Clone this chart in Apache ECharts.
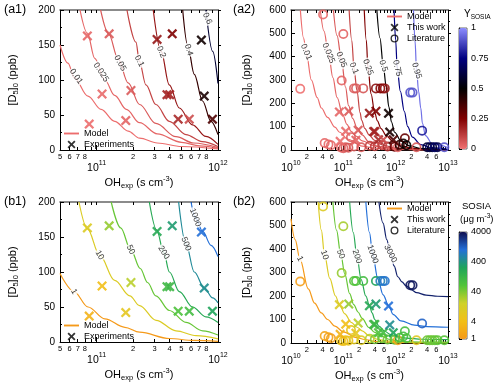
<!DOCTYPE html>
<html><head><meta charset="utf-8">
<script src="https://cdn.jsdelivr.net/npm/echarts@6/dist/echarts.min.js"></script>
<style>html,body{margin:0;padding:0;background:#fff}#c{width:500px;height:387px}</style>
</head><body><div id="c"></div>
<script>
// ---------------- DATA ----------------
// Panel (a1): Y_SOSIA contours, OH_exp [molec s cm-3] vs [D5]0 [ppb]
const a1Levels = ['0.01','0.025','0.05','0.1','0.2','0.4','0.6'];
const a1LevelValues = [0.01,0.025,0.05,0.1,0.2,0.4,0.6];
const a1Curves = [
  [[5.0e10,150],[5.82e10,124],[6.56e10,103],[8.49e10,77],[1.09e11,58],[1.41e11,41],[1.82e11,27],[2.26e11,17],[3.16e11,10],[5.01e11,5],[1e12,1.5]],
  [[7.31e10,200],[8.4e10,167],[9.66e10,131],[1.17e11,100],[1.41e11,78],[1.76e11,58],[2.26e11,39],[3.16e11,23],[5.01e11,11],[7.08e11,6],[1e12,2.5]],
  [[1.08e11,200],[1.26e11,166],[1.5e11,131],[1.82e11,96],[2.26e11,65],[3.08e11,38],[4.51e11,19],[6.31e11,10],[1e12,3.5]],
  [[1.78e11,200],[2.11e11,154],[2.25e11,127],[2.55e11,93],[3.08e11,65],[3.97e11,41],[5.45e11,22],[7.41e11,12],[1e12,5]],
  [[2.93e11,200],[3.4e11,141],[3.97e11,93],[4.8e11,60],[6.17e11,36],[7.94e11,19.5],[1e12,8]],
  [[5.12e11,200],[5.62e11,150],[6.38e11,108],[7.46e11,70],[8.75e11,41],[1e12,22]],
  [[7.96e11,200],[9.04e11,141],[1e12,95]]
];
const a1LabelAt = [[6.78e10,105],[1.09e11,111],[1.56e11,124],[2.25e11,127],[3.41e11,140],[5.74e11,143],[8.17e11,188]];

// Panel (a2): Y_SOSIA contours
const a2Levels = ['0.01','0.025','0.05','0.1','0.25','0.5','0.75','0.95'];
const a2LevelValues = [0.01,0.025,0.05,0.1,0.25,0.5,0.75,0.95];
const a2Curves = [
  [[1.51e10,600],[1.74e10,480],[1.95e10,420],[2.45e10,300],[3.16e10,225],[3.8e10,180],[5.01e10,140],[6.92e10,98],[8.51e10,76],[1.23e11,46],[2.29e11,17],[3.98e11,8],[1e12,2],[3.16e12,0.6],[1e13,0.2]],
  [[3.63e10,600],[4.27e10,510],[5.2e10,415],[6.31e10,310],[7.59e10,225],[9.77e10,150],[1.17e11,110],[1.41e11,80],[1.78e11,58],[2.29e11,39],[3.98e11,17],[6.31e11,9],[1e12,5],[3.16e12,1.2],[1e13,0.4]],
  [[6.46e10,600],[7.59e10,490],[9.2e10,387],[1.1e11,270],[1.26e11,190],[1.51e11,135],[1.82e11,96],[2.29e11,65],[3.09e11,35],[4.47e11,16],[1e12,6],[3.16e12,1.5],[1e13,0.5]],
  [[1.29e11,600],[1.45e11,470],[1.6e11,350],[1.82e11,255],[2.09e11,160],[2.24e11,127],[2.57e11,93],[3.09e11,65],[3.98e11,41],[5.5e11,22],[1e12,8],[3.16e12,2],[1e13,0.6]],
  [[2.51e11,600],[2.75e11,470],[2.95e11,355],[3.39e11,240],[3.98e11,160],[4.47e11,125],[5.25e11,92],[6.61e11,62],[8.91e11,36],[1.17e12,21],[2.0e12,8],[3.98e12,3],[1e13,1]],
  [[4.37e11,600],[5.01e11,480],[5.8e11,360],[6.61e11,270],[7.41e11,185],[8.32e11,120],[9.55e11,76],[1.26e12,40],[1.82e12,18],[3.16e12,6],[1e13,1.5]],
  [[9.33e11,600],[1e12,470],[1.07e12,350],[1.23e12,251],[1.46e12,166],[1.7e12,100],[2.09e12,55],[3.02e12,23],[5.01e12,9],[1e13,3]],
  [[2.19e12,600],[2.34e12,470],[2.51e12,340],[2.75e12,250],[3.02e12,180],[3.24e12,115],[3.72e12,62],[5.01e12,26],[1e13,10]]
];
const a2LabelAt = [[1.95e10,420],[5.2e10,415],[9.2e10,387],[1.6e11,350],[2.95e11,355],[5.8e11,360],[1.07e12,350],[2.51e12,340]];

// Panel (b1): SOSIA mass contours (ug m-3)
const b1Levels = ['1','10','50','200','500','1000'];
const b1LevelValues = [1,10,50,200,500,1000];
const b1Curves = [
  [[5e10,98],[6.52e10,72],[8.51e10,50],[1.17e11,33],[1.71e11,21],[2.26e11,14],[3.98e11,5],[6.31e11,2.2],[1e12,1]],
  [[7.16e10,200],[8.4e10,162],[1.06e11,124],[1.41e11,88],[1.88e11,66],[2.26e11,52],[3.09e11,31],[4.51e11,16],[6.61e11,9],[1e12,4.5]],
  [[1.32e11,200],[1.58e11,163],[1.91e11,132],[2.29e11,105],[2.63e11,85],[3.08e11,66],[3.98e11,45],[5.45e11,28],[7.48e11,16],[1e12,10]],
  [[2.72e11,200],[3.13e11,160],[3.57e11,128],[3.98e11,100],[4.8e11,72],[6.17e11,50],[7.94e11,36],[1e12,28]],
  [[4.74e11,200],[5.45e11,140],[6.38e11,100],[7.71e11,77],[9.04e11,63],[1e12,56]],
  [[6.0e11,200],[6.5e11,178],[7.48e11,158],[8.77e11,138],[1e12,122]]
];
const b1LabelAt = [[6.52e10,72],[1.06e11,124],[1.91e11,132],[3.57e11,128],[5.45e11,140],[6.5e11,178]];

// Panel (b2): SOSIA mass contours
const b2Levels = ['1','10','50','200','1000','3000'];
const b2LevelValues = [1,10,50,200,1000,3000];
const b2Curves = [
  [[1e10,528],[1.2e10,440],[1.48e10,358],[2.14e10,230],[2.82e10,170],[3.8e10,128],[5.01e10,100],[6.92e10,72],[1e11,47],[1.78e11,23],[2.57e11,15],[3.98e11,7],[7.94e11,3],[3.16e12,0.8],[1e13,0.3]],
  [[3.31e10,600],[3.8e10,480],[4.37e10,375],[5.5e10,275],[7.08e10,200],[8.51e10,160],[1.07e11,124],[1.41e11,88],[1.86e11,66],[2.29e11,52],[3.09e11,31],[4.47e11,16],[6.61e11,9],[1e12,5],[3.16e12,1.5],[1e13,0.8]],
  [[6.31e10,600],[7.41e10,480],[8.91e10,378],[1.07e11,293],[1.32e11,210],[1.58e11,163],[1.91e11,132],[2.29e11,105],[3.09e11,66],[3.98e11,45],[5.5e11,28],[7.41e11,16],[1e12,10],[2e12,5],[5.01e12,3.5],[1e13,3.3]],
  [[1.32e11,600],[1.55e11,470],[1.82e11,368],[2.19e11,270],[2.69e11,200],[3.16e11,158],[3.55e11,128],[3.98e11,100],[4.79e11,72],[6.17e11,50],[7.94e11,36],[1e12,28],[1.58e12,21],[3.16e12,16],[1e13,14]],
  [[2.69e11,600],[3.16e11,470],[3.63e11,378],[4.57e11,272],[5.75e11,205],[7.41e11,158],[8.91e11,122],[1.26e12,94],[2.29e12,76],[3.98e12,70],[1e13,67]],
  [[4.79e11,600],[5.75e11,510],[6.76e11,440],[7.94e11,380],[9.33e11,328],[1.1e12,282],[1.32e12,260],[1.58e12,243],[2e12,226],[2.51e12,214],[3.8e12,204],[6.31e12,199],[1e13,197]]
];
const b2LabelAt = [[1.48e10,358],[4.37e10,375],[8.91e10,378],[1.82e11,368],[3.63e11,378],[7.94e11,380]];

// This work: [OH_exp, [D5]0 ppb, Y_SOSIA, SOSIA ug m-3]
const thisWork = [
  [8.4e10,163,0.025,10],[1.27e11,166,0.05,30],[1.11e11,80,0.018,4],[8.7e10,37,0.01,2.5],
  [1.92e11,85,0.05,20],[1.74e11,42,0.03,7],[3.15e11,158,0.2,200],[4.2e11,166,0.25,320],
  [3.8e11,79,0.17,100],[4.0e11,79,0.17,110],[4.7e11,44,0.16,70],[5.8e11,44,0.08,90],
  [7.3e11,157,0.47,1000],[7.7e11,77,0.45,450],[9.0e11,44,0.35,250]
];
// Literature: [OH_exp, [D5]0 ppb, Y_SOSIA, SOSIA ug m-3]
const literature = [
  [1.5e10,262,0.005,1.2],[4.1e10,581,0.02,9],[1.0e11,497,0.03,25],[9.3e10,298,0.03,30],
  [1.6e11,264,0.04,60],[1.75e11,264,0.05,70],[2.4e11,264,0.06,90],[4.2e11,264,0.22,250],
  [5.1e11,264,0.24,700],[5.7e11,264,0.25,800],[6.2e11,264,0.2,900],[1.9e12,246,0.9,3500],
  [2.1e12,246,0.9,3500],[3.2e12,83,0.8,1200],[1.5e12,50,0.3,90],
  [4.4e10,30,0.02,1.5],[5.2e10,24,0.02,1.4],[5.8e10,20,0.02,1.3],[9.0e10,11,0.03,5],
  [1.0e11,8,0.04,4],[1.1e11,12,0.05,6],[1.25e11,10,0.06,5],[1.4e11,55,0.05,6],
  [1.6e11,15,0.05,8],[2.2e11,12,0.05,10],[3.2e11,18,0.1,20],[4.0e11,16,0.12,40],
  [5.5e11,20,0.1,50],[7.0e11,15,0.15,45],[9.5e11,14,0.3,50],[1.1e12,12,0.02,1.5],
  [1.2e12,22,0.4,80],[1.4e12,28,0.45,90],[1.6e12,20,0.5,70],[2.5e12,12,0.05,8],
  [4.0e12,12,0.6,45],[4.5e12,12,0.65,50],[5.0e12,12,0.6,45],[5.6e12,12,0.7,50],
  [6.3e12,12,0.65,55],[8.5e12,12,0.9,60]
];

// Tick values
const a1Decades = [1e11,1e12];
const a1MinorTicks = [5e10,6e10,7e10,8e10,9e10,2e11,3e11,4e11,5e11,6e11,7e11,8e11,9e11];
const a1MinorLabels = [5e10,6e10,7e10,8e10,2e11,3e11,4e11,5e11,6e11,7e11,8e11];
const a2Decades = [1e10,1e11,1e12,1e13];
const a2MinorTicks = [2e10,3e10,4e10,5e10,6e10,7e10,8e10,9e10,2e11,3e11,4e11,5e11,6e11,7e11,8e11,9e11,2e12,3e12,4e12,5e12,6e12,7e12,8e12,9e12];
const a2MinorLabels = [2e10,4e10,6e10,2e11,4e11,6e11,2e12,4e12,6e12];
const sosiaTicks = [1,4,40,400,4000];

// ---------------- STYLE ----------------
const FONT = "'Liberation Sans', Arial, Helvetica, sans-serif";
const yColors = ['#f07272','#800000','#000000','#000080','#8c8cff'];
const mColors = ['#f59a1a','#f2bf17','#cfd12a','#52c43a','#1fa45a','#2470d8','#0e0e50'];
const a1Angles = [-55,-57,-61,-63,-67,-73,-67];
const a2Angles = [-67,-67,-68,-67,-70,-72,-76,-73];
const b1Angles = [-59,-60,-63,-58,-68,-69];
const b2Angles = [-63,-70,-67,-72,-70,-63];
const CROSS = 'path://M0,1.6L1.6,0L5,3.4L8.4,0L10,1.6L6.6,5L10,8.4L8.4,10L5,6.6L1.6,10L0,8.4L3.4,5Z';
const RING = 'path://M10,5A5,5,0,1,1,0,5A5,5,0,1,1,10,5ZM8.3,5A3.3,3.3,0,1,0,1.7,5A3.3,3.3,0,1,0,8.3,5Z';
const LINEICON = 'path://M0,0H16V2H0Z';
const MLOGMAX = Math.log10(4000);

function hex2rgb(h){return [parseInt(h.slice(1,3),16),parseInt(h.slice(3,5),16),parseInt(h.slice(5,7),16)];}
function ramp(stops,t){t=Math.max(0,Math.min(1,t));const n=stops.length-1;const i=Math.min(n-1,Math.floor(t*n));const f=t*n-i;const a=hex2rgb(stops[i]),b=hex2rgb(stops[i+1]);return 'rgb('+a.map((v,k)=>Math.round(v+(b[k]-v)*f)).join(',')+')';}
const yColor = v => ramp(yColors, v);
const mColor = v => ramp(mColors, Math.log10(v)/MLOGMAX);
const txt = o => Object.assign({color:'#000', fontFamily:FONT}, o);
const richSS = {
  sub: txt({fontSize:7.5, lineHeight:8, verticalAlign:'bottom'}),
  sup: txt({fontSize:7.5, lineHeight:8, verticalAlign:'top'})
};
const nameStyle = txt({fontSize:11, lineHeight:15, rich:richSS});

// ---------------- AXES ----------------
const gridDefs = [
  {left:60, top:10, width:158, height:140},
  {left:291, top:10, width:157, height:140},
  {left:60, top:202, width:158, height:140},
  {left:291, top:202, width:157, height:141},
  {left:459, top:28, width:8, height:121, show:true, borderColor:'#444', borderWidth:0.8, backgroundColor:'transparent'},
  {left:459, top:232, width:8, height:107, show:true, borderColor:'#444', borderWidth:0.8, backgroundColor:'transparent'}
];
const panels = [
  {xmin:5e10, xmax:1e12, ymax:200, yint:50, dec:a1Decades, mt:a1MinorTicks, ml:a1MinorLabels, yGap:40},
  {xmin:1e10, xmax:1e13, ymax:600, yint:100, dec:a2Decades, mt:a2MinorTicks, ml:a2MinorLabels, yGap:37},
  {xmin:5e10, xmax:1e12, ymax:200, yint:50, dec:a1Decades, mt:a1MinorTicks, ml:a1MinorLabels, yGap:40},
  {xmin:1e10, xmax:1e13, ymax:600, yint:100, dec:a2Decades, mt:a2MinorTicks, ml:a2MinorLabels, yGap:37}
];
const xAxes = [], yAxes = [];
const blk = {color:'#000', width:1};
panels.forEach((p,g) => {
  xAxes.push({type:'log', logBase:10, gridIndex:g, min:p.xmin, max:p.xmax, position:'bottom',
    axisLine:{show:true, lineStyle:blk},
    axisTick:{show:true, inside:true, length:5, customValues:p.dec, lineStyle:blk},
    axisLabel:{show:true, customValues:p.dec, margin:10,
      formatter: v => '{b|10}{s|' + Math.round(Math.log10(v)) + '}',
      rich:{b:txt({fontSize:10.5, lineHeight:14, verticalAlign:'bottom'}), s:txt({fontSize:7, lineHeight:8, verticalAlign:'top'})}},
    splitLine:{show:false},
    name:'OH{sub|exp} (s cm{sup|-3})', nameLocation:'middle', nameGap:25, nameTextStyle:nameStyle});
  xAxes.push({type:'log', logBase:10, gridIndex:g, min:p.xmin, max:p.xmax, position:'bottom',
    axisLine:{show:false},
    axisTick:{show:true, inside:true, length:3, customValues:p.mt, lineStyle:blk},
    axisLabel:{show:true, customValues:p.ml, margin:3, fontSize:7.5, color:'#000', fontFamily:FONT,
      formatter: v => String(Math.round(v / Math.pow(10, Math.floor(Math.log10(v) + 1e-9))))},
    splitLine:{show:false}});
  xAxes.push({type:'log', logBase:10, gridIndex:g, min:p.xmin, max:p.xmax, position:'top',
    axisLine:{show:true, lineStyle:{color:'#666', width:1.6}},
    axisTick:{show:true, inside:true, length:3, customValues:p.mt.concat(p.dec), lineStyle:blk},
    axisLabel:{show:false}, splitLine:{show:false}});
  yAxes.push({type:'value', gridIndex:g, min:0, max:p.ymax, interval:p.yint, position:'left',
    axisLine:{show:true, lineStyle:blk},
    axisTick:{show:true, inside:true, length:4, lineStyle:blk},
    minorTick:{show:true, splitNumber:2, length:2, lineStyle:blk},
    axisLabel:{fontSize:10, margin:5, color:'#000', fontFamily:FONT},
    splitLine:{show:false}, minorSplitLine:{show:false},
    name:'[D{sub|5}]{sub|0} (ppb)', nameLocation:'middle', nameGap:p.yGap, nameTextStyle:nameStyle});
  yAxes.push({type:'value', gridIndex:g, min:0, max:p.ymax, interval:p.yint, position:'right',
    axisLine:{show:true, lineStyle:blk},
    axisTick:{show:true, inside:false, length:3, lineStyle:blk},
    minorTick:{show:true, splitNumber:2, length:2, lineStyle:blk},
    axisLabel:{show:false}, splitLine:{show:false}});
});
// colorbar helper axes
xAxes.push({type:'value', gridIndex:4, show:false, min:0, max:1});
xAxes.push({type:'value', gridIndex:5, show:false, min:0, max:1});
yAxes.push({type:'value', gridIndex:4, min:0, max:1, interval:0.25, position:'right',
  axisLine:{show:true, lineStyle:{color:'#000', width:0.8}},
  axisTick:{show:true, length:3, lineStyle:blk},
  axisLabel:{fontSize:9, margin:4, color:'#000', fontFamily:FONT}, splitLine:{show:false}});
const sosiaTickLogs = sosiaTicks.map(v => Math.log10(v));
yAxes.push({type:'value', gridIndex:5, min:0, max:MLOGMAX, position:'right',
  axisLine:{show:true, lineStyle:{color:'#000', width:0.8}},
  axisTick:{show:true, length:3, customValues:sosiaTickLogs, lineStyle:blk},
  axisLabel:{fontSize:9, margin:4, color:'#000', fontFamily:FONT, customValues:sosiaTickLogs,
    formatter: v => String(Math.round(Math.pow(10, v)))}, splitLine:{show:false}});

// ---------------- SERIES ----------------
const series = [];
function addCurves(g, levels, values, curves, labelAt, angles, colorOf) {
  curves.forEach((c,i) => series.push({type:'line', name:'contour'+g+'_'+levels[i], xAxisIndex:3*g, yAxisIndex:2*g,
    data:c, showSymbol:false, symbol:'none', smooth:0.35, smoothMonotone:'x', silent:true, z:2,
    lineStyle:{color:colorOf(values[i]), width:1.2}}));
  series.push({type:'scatter', name:'labels'+g, xAxisIndex:3*g, yAxisIndex:2*g, symbol:'circle', symbolSize:1,
    itemStyle:{color:'rgba(0,0,0,0)'}, silent:true, z:3,
    data: labelAt.map((pt,i) => ({value:pt, label:{formatter:levels[i], rotate:angles[i]}})),
    label:{show:true, position:'inside', fontSize:8.5, color:'#000', fontFamily:FONT, backgroundColor:'#fff', padding:[0,1]}});
}
function addMarkers(g, arr, symbol, size, tag) {
  series.push({type:'scatter', name:tag+g, xAxisIndex:3*g, yAxisIndex:2*g, symbol, symbolSize:size, silent:true, z:4,
    itemStyle:{opacity:0.9},
    data: arr.map(d => [d[0], d[1], d[2], Math.log10(d[3])])});
  return series.length - 1;
}
addCurves(0, a1Levels, a1LevelValues, a1Curves, a1LabelAt, a1Angles, yColor);
addCurves(1, a2Levels, a2LevelValues, a2Curves, a2LabelAt, a2Angles, yColor);
addCurves(2, b1Levels, b1LevelValues, b1Curves, b1LabelAt, b1Angles, mColor);
addCurves(3, b2Levels, b2LevelValues, b2Curves, b2LabelAt, b2Angles, mColor);
const iA1x = addMarkers(0, thisWork, CROSS, 10, 'xa');
const iA2o = addMarkers(1, literature, RING, 10, 'oa');
const iA2x = addMarkers(1, thisWork, CROSS, 10, 'xa');
const iB1x = addMarkers(2, thisWork, CROSS, 10, 'xb');
const iB2o = addMarkers(3, literature, RING, 10, 'ob');
const iB2x = addMarkers(3, thisWork, CROSS, 10, 'xb');
// legend-only series
series.push({type:'line', name:'Model', xAxisIndex:0, yAxisIndex:0, data:[], symbol:'none', lineStyle:{color:yColor(0.01), width:2}, itemStyle:{color:yColor(0.01)}});
series.push({type:'line', name:'Model ', xAxisIndex:6, yAxisIndex:4, data:[], symbol:'none', lineStyle:{color:mColor(1), width:2}, itemStyle:{color:mColor(1)}});
series.push({type:'scatter', name:'Experiments', xAxisIndex:0, yAxisIndex:0, data:[], symbol:CROSS, itemStyle:{color:'#000'}});
series.push({type:'scatter', name:'This work', xAxisIndex:3, yAxisIndex:2, data:[], symbol:CROSS, itemStyle:{color:'#000'}});
series.push({type:'scatter', name:'Literature', xAxisIndex:3, yAxisIndex:2, data:[], symbol:RING, itemStyle:{color:'#000'}});

const legendBase = {orient:'vertical', itemWidth:15, itemHeight:8, itemGap:2, padding:0, selectedMode:false,
  textStyle:txt({fontSize:9})};
const modelA = {name:'Model', icon:LINEICON};
const modelB = {name:'Model ', icon:LINEICON};

const option = {
  animation:false,
  textStyle:{fontFamily:FONT},
  title:[
    {text:'(a1)', left:4, top:3, padding:0, textStyle:txt({fontSize:12.5, fontWeight:'normal'})},
    {text:'(a2)', left:233, top:3, padding:0, textStyle:txt({fontSize:12.5, fontWeight:'normal'})},
    {text:'(b1)', left:4, top:195, padding:0, textStyle:txt({fontSize:12.5, fontWeight:'normal'})},
    {text:'(b2)', left:233, top:195, padding:0, textStyle:txt({fontSize:12.5, fontWeight:'normal'})},
    {text:'Y{s|SOSIA}', left:464, top:8, padding:0, textStyle:txt({fontSize:10, lineHeight:13, fontWeight:'normal',
      rich:{s:txt({fontSize:6.5, lineHeight:7, verticalAlign:'bottom'})}})},
    {text:'SOSIA', left:462, top:201, padding:0, textStyle:txt({fontSize:9.5, fontWeight:'normal'})},
    {text:'(\u03bcg m{sup|-3})', left:460, top:213, padding:0, textStyle:txt({fontSize:9.5, lineHeight:12, fontWeight:'normal',
      rich:{sup:txt({fontSize:6.5, lineHeight:7, verticalAlign:'top'})}})}
  ],
  grid: gridDefs,
  xAxis: xAxes,
  yAxis: yAxes,
  legend:[
    Object.assign({data:[modelA,'Experiments'], left:64, top:129}, legendBase),
    Object.assign({data:[modelA,'This work','Literature'], left:387, top:12}, legendBase),
    Object.assign({data:[modelB,'Experiments'], left:64, top:321}, legendBase),
    Object.assign({data:[modelB,'This work','Literature'], left:387, top:204}, legendBase)
  ],
  visualMap:[
    {type:'continuous', min:0, max:1, dimension:2, seriesIndex:[iA1x,iA2o,iA2x], calculable:false,
      left:459, top:28, itemWidth:8, itemHeight:121, padding:0, inRange:{color:yColors}, hoverLink:false},
    {type:'continuous', min:0, max:MLOGMAX, dimension:3, seriesIndex:[iB1x,iB2o,iB2x], calculable:false,
      left:459, top:232, itemWidth:8, itemHeight:107, padding:0, inRange:{color:mColors}, hoverLink:false}
  ],
  series
};
const chart = echarts.init(document.getElementById('c'), null, {renderer:'canvas'});
chart.setOption(option);
</script></body></html>
